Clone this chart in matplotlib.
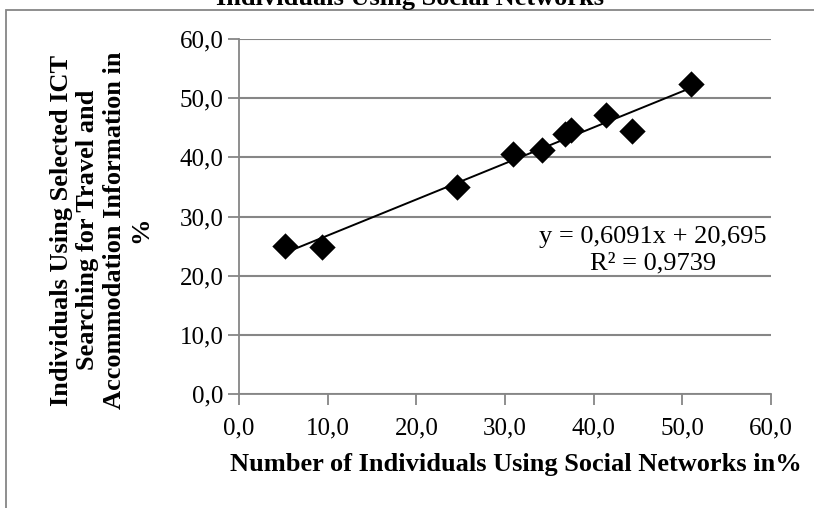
import numpy as np
import matplotlib
matplotlib.use("Agg")
import matplotlib.pyplot as plt
from matplotlib.patches import Rectangle

plt.rcParams['font.family'] = ['Liberation Serif', 'DejaVu Serif']

# data
social_networks = [5.2, 9.4, 24.6, 30.9, 34.2, 36.8, 37.4, 41.4, 44.3, 51.0]
travel_search = [25.0, 24.9, 35.0, 40.6, 41.3, 44.0, 44.7, 47.2, 44.4, 52.4]
trend_slope = 0.6091
trend_intercept = 20.695
r_squared = 0.9739
tick_values = [0, 10, 20, 30, 40, 50, 60]

title = "Individuals Using Social Networks"
x_label = "Number of Individuals Using Social Networks in%"
y_label = "Individuals Using Selected ICT\nSearching for Travel and\nAccommodation Information in\n%"

def fmt(v):
    return f"{v:.1f}".replace(".", ",")

fig = plt.figure(figsize=(8.14, 5.08), dpi=100)
ax = fig.add_axes([239/814, 1-394/508, (771-239)/814, (394-39)/508])

grey = '#868686'
# chart border
fig.patches.append(Rectangle((6/814, -0.1), 2.0, (1-10/508)+0.1, transform=fig.transFigure,
                             fill=False, edgecolor=grey, linewidth=1.3))

ax.scatter(social_networks, travel_search, marker='D', s=180, color='black', zorder=3,
           linewidths=0)
xs = np.array([min(social_networks), max(social_networks)])
ax.plot(xs, trend_slope*xs + trend_intercept, color='black', linewidth=1.4, zorder=2)

ax.set_xlim(0, 60)
ax.set_ylim(0, 60)
ax.set_xticks(tick_values)
ax.set_yticks(tick_values)
ax.set_xticklabels([fmt(v) for v in tick_values])
ax.set_yticklabels([fmt(v) for v in tick_values])
ax.tick_params(axis='both', which='major', labelsize=18, color=grey, width=1.3, length=8,
               direction='out', pad=3)
ax.tick_params(axis='x', pad=9)
ax.grid(axis='y', color=grey, linewidth=1.5)
ax.set_axisbelow(True)
for s in ['top', 'right']:
    ax.spines[s].set_visible(False)
for s in ['left', 'bottom']:
    ax.spines[s].set_color(grey)
    ax.spines[s].set_linewidth(1.3)

ax.set_xlabel(x_label, fontsize=19, fontweight='bold', labelpad=10)
ax.xaxis.label.set_x(0.52)
fig.text(0.124, 1-230/508, y_label, rotation=90, fontsize=19, fontweight='bold',
         ha='center', va='center', multialignment='center', linespacing=1.2)

eq = f"y = {trend_slope:.4f}x + {trend_intercept:.3f}".replace(".", ",")
r2 = f"R\u00b2 = {r_squared:.4f}".replace(".", ",")
fig.text(653/814, 1-237/508, eq, fontsize=19, ha='center', va='center')
fig.text(653/814, 1-263/508, r2, fontsize=19, ha='center', va='center')

fig.text(410/814, 1-(-2)/508, title, fontsize=19, fontweight='bold', ha='center', va='center')

fig.savefig("out.png", dpi=100)
